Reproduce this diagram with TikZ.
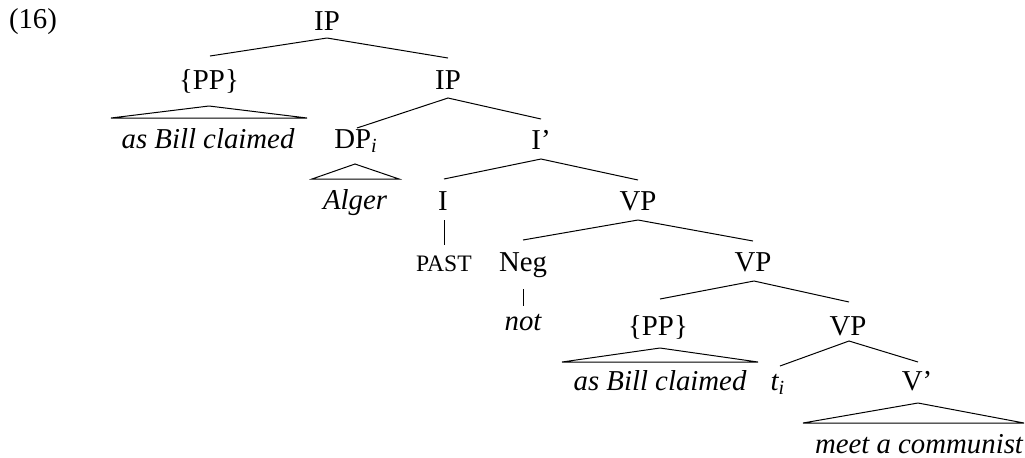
\documentclass[tikz,border=0pt]{standalone}
\usepackage{fontspec}
\setmainfont{Liberation Serif}
\begin{document}
\begin{tikzpicture}[x=0.5pt,y=-0.5pt,
  lab/.style={anchor=base, inner sep=0pt, font=\fontsize{14.4}{17}\selectfont},
  edge/.style={line width=0.5pt}]
\useasboundingbox (0,0) rectangle (1025,457);
% labels (x = centre, y = baseline)
\node[lab] (ex) at (33,28) {(16)};
\node[lab] (ip0) at (327,30) {IP};
\node[lab] (pp1) at (209,89) {\{PP\}};
\node[lab] (ip1) at (448,89) {IP};
\node[lab] (abc1) at (208,148) {\itshape as Bill claimed};
\node[lab] (dp) at (356,148) {DP\textsubscript{\itshape i}};
\node[lab] (ibar) at (541,149) {I’};
\node[lab] (alger) at (355,209) {\itshape Alger};
\node[lab] (i) at (443,210) {I};
\node[lab] (vp1) at (638,210) {VP};
\node[lab, font=\fontsize{11.8}{14}\selectfont] (past) at (444,271) {PAST};
\node[lab] (neg) at (523,271) {Neg};
\node[lab] (vp2) at (753,271) {VP};
\node[lab] (not) at (523,330) {\itshape not};
\node[lab] (pp2) at (658,335) {\{PP\}};
\node[lab] (vp3) at (848,335) {VP};
\node[lab] (abc2) at (660,390) {\itshape as Bill claimed};
\node[lab] (ti) at (778,390) {\itshape t\textsubscript{i}};
\node[lab] (vbar) at (917,390) {V’};
\node[lab] (mac) at (919,453) {\itshape meet a communist};
% connector points
\coordinate (a0) at (327,38); \coordinate (a0l) at (210,56); \coordinate (a0r) at (448,58);
\coordinate (t1) at (209,106); \coordinate (t1l) at (111,118); \coordinate (t1r) at (307,118);
\coordinate (a1) at (448,98); \coordinate (a1l) at (357,128); \coordinate (a1r) at (541,119);
\coordinate (t2) at (355,164); \coordinate (t2l) at (312,179); \coordinate (t2r) at (399,179);
\coordinate (a2) at (541,159); \coordinate (a2l) at (444,179); \coordinate (a2r) at (638,180);
\coordinate (b1) at (444,220); \coordinate (b1e) at (444,245);
\coordinate (a3) at (638,220); \coordinate (a3l) at (523,240); \coordinate (a3r) at (753,241);
\coordinate (b2) at (523,289); \coordinate (b2e) at (523,306);
\coordinate (a4) at (754,281); \coordinate (a4l) at (660,299); \coordinate (a4r) at (849,302);
\coordinate (t3) at (660,348); \coordinate (t3l) at (562,362); \coordinate (t3r) at (758,362);
\coordinate (a5) at (849,341); \coordinate (a5l) at (780,366); \coordinate (a5r) at (918,362);
\coordinate (t4) at (918,403); \coordinate (t4l) at (803,423); \coordinate (t4r) at (1024,423);
% branches
\draw[edge] (a0l) -- (a0) -- (a0r);
\draw[edge] (t1l) -- (t1) -- (t1r) -- cycle;
\draw[edge] (a1l) -- (a1) -- (a1r);
\draw[edge] (t2l) -- (t2) -- (t2r) -- cycle;
\draw[edge] (a2l) -- (a2) -- (a2r);
\draw[edge] (b1) -- (b1e);
\draw[edge] (a3l) -- (a3) -- (a3r);
\draw[edge] (b2) -- (b2e);
\draw[edge] (a4l) -- (a4) -- (a4r);
\draw[edge] (t3l) -- (t3) -- (t3r) -- cycle;
\draw[edge] (a5l) -- (a5) -- (a5r);
\draw[edge] (t4l) -- (t4) -- (t4r) -- cycle;
\end{tikzpicture}
\end{document}
